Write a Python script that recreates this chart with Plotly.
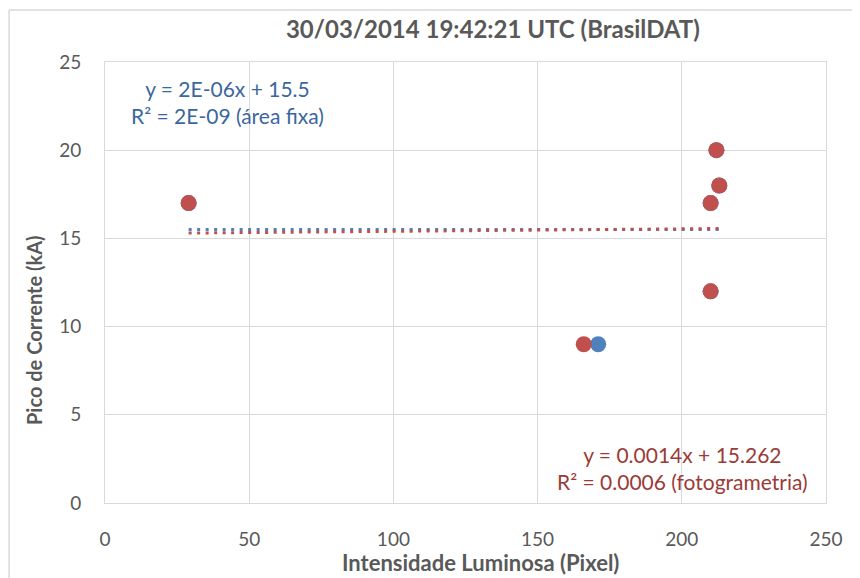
import plotly.graph_objects as go

# pontos (intensidade luminosa x pico de corrente)
x_foto = [29, 166, 210, 212, 213, 210]
y_foto = [17, 9, 17, 20, 18, 12]
x_fixa = [29, 171, 210, 212, 213, 210]
y_fixa = [17, 9, 17, 20, 18, 12]

# coeficientes das linhas de tendencia (rotulos do grafico)
fit_fixa = (2e-06, 15.5)
fit_foto = (0.0014, 15.262)

lbl_fixa = "y = 2E-06x + 15.5<br>R² = 2E-09 (área fixa)"
lbl_foto = "y = 0.0014x + 15.262<br>R² = 0.0006 (fotogrametria)"

BLUE = "#4F81BD"
RED = "#C0504D"
GRID = "#D9D9D9"
TXT = "#595959"
FONT = "Lato"

# a pagina tem 8px de margem no body, por isso a figura e' um pouco menor
W, H = 852, 570
L, T = 97, 54
R = W - 818
B = H - 495


def trend(xs, coef):
    xr = [min(xs), max(xs)]
    return xr, [coef[0] * v + coef[1] for v in xr]


fig = go.Figure()

tx, ty = trend(x_fixa, fit_fixa)
fig.add_trace(go.Scatter(x=tx, y=ty, mode="lines",
                         line=dict(color=BLUE, width=3, dash="3px,5.5px"),
                         showlegend=False, hoverinfo="skip"))
tx, ty = trend(x_foto, fit_foto)
fig.add_trace(go.Scatter(x=tx, y=ty, mode="lines",
                         line=dict(color=RED, width=3, dash="3px,5.5px"),
                         showlegend=False, hoverinfo="skip"))

fig.add_trace(go.Scatter(x=x_fixa, y=y_fixa, mode="markers", name="área fixa",
                         marker=dict(color=BLUE, size=16), showlegend=False))
fig.add_trace(go.Scatter(x=x_foto, y=y_foto, mode="markers", name="fotogrametria",
                         marker=dict(color=RED, size=16), showlegend=False))

fig.add_annotation(x=42.6, y=22.73, xref="x", yref="y", text=lbl_fixa,
                   showarrow=False, align="center",
                   font=dict(family=FONT, size=21, color="#3A679E"))
fig.add_annotation(x=200.4, y=2.01, xref="x", yref="y", text=lbl_foto,
                   showarrow=False, align="center",
                   font=dict(family=FONT, size=21, color="#9B3B38"))

# titulos dos eixos como anotacoes (posicao igual ao original)
fig.add_annotation(x=(26 - L) / 721, y=(495 - 322) / 441, xref="paper", yref="paper",
                   text="<b>Pico de Corrente (kA)</b>", textangle=-90,
                   showarrow=False, xanchor="center", yanchor="middle",
                   font=dict(family=FONT, size=20, color=TXT))
fig.add_annotation(x=(472 - L) / 721, y=(495 - 554) / 441, xref="paper", yref="paper",
                   text="<b>Intensidade Luminosa (Pixel)</b>",
                   showarrow=False, xanchor="center", yanchor="middle",
                   font=dict(family=FONT, size=22, color=TXT))

# borda externa do grafico (so topo e esquerda ficam visiveis)
fig.add_shape(type="line", xref="paper", yref="paper",
              x0=-0.133, x1=1.2, y0=1.118, y1=1.118,
              line=dict(color=GRID, width=1.5))
fig.add_shape(type="line", xref="paper", yref="paper",
              x0=-0.133, x1=-0.133, y0=-0.3, y1=1.118,
              line=dict(color=GRID, width=1.5))

axis_common = dict(showgrid=True, gridcolor=GRID, gridwidth=1,
                   showline=True, linecolor=GRID, linewidth=1, mirror=True,
                   zeroline=False, ticks="",
                   tickfont=dict(family=FONT, size=19, color=TXT))

fig.update_xaxes(range=[0, 250], dtick=50, ticklabelstandoff=19, **axis_common)
fig.update_yaxes(range=[0, 25], dtick=5, ticklabelstandoff=19, **axis_common)

fig.update_layout(
    width=W, height=H,
    margin=dict(l=L, r=R, t=T, b=B, autoexpand=False),
    paper_bgcolor="white", plot_bgcolor="white",
    title=dict(text="<b>30/03/2014 19:42:21 UTC (BrasilDAT)</b>",
               x=0.538, xanchor="center", y=1 - 22 / H, yanchor="middle",
               xref="paper", yref="container",
               font=dict(family=FONT, size=24, color=TXT)),
)

fig.write_html("out.html")
